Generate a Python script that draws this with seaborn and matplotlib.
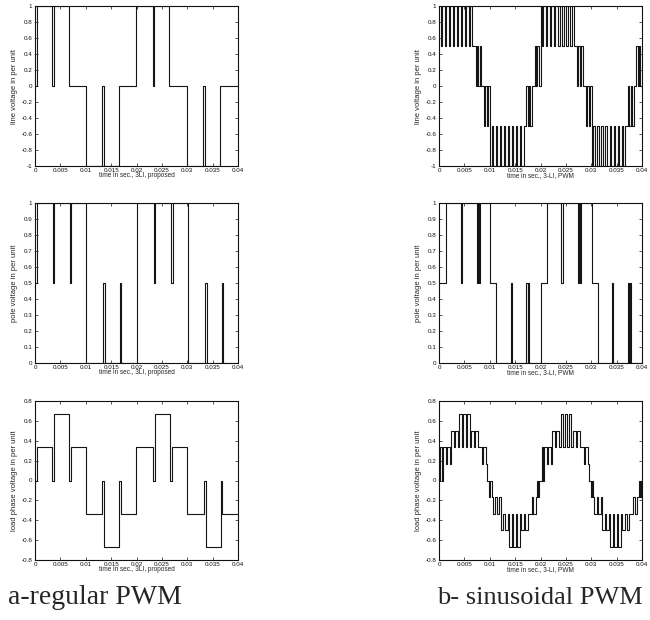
import numpy as np
import pandas as pd
import matplotlib
matplotlib.use("Agg")
import matplotlib.pyplot as plt
import seaborn as sns

# switching instants (ms) and the per-unit level held after each instant

# a) regular PWM, 3LI proposed
line_prop_t = [0, 0.3, 3.4, 3.7, 6.7, 10.1, 13.3, 13.6, 16.6, 19.9,
               23.2, 23.5, 26.5, 30.0, 33.2, 33.5, 36.4, 40]
line_prop_v = [0, 1, 0, 1, 0, -1, 0, -1, 0, 1,
               0, 1, 0, -1, 0, -1, 0, 0]

pole_prop_t = [0, 0.3, 3.5, 3.8, 6.8, 7.1, 10.1, 13.4, 13.7, 16.7, 17.0,
               20.0, 23.4, 23.7, 26.8, 27.1, 30.2, 33.5, 33.8, 36.8, 37.1, 40]
pole_prop_v = [0.5, 1, 0.5, 1, 0.5, 1, 0, 0.5, 0, 0.5, 0,
               1, 0.5, 1, 0.5, 1, 0, 0.5, 0, 0.5, 0, 0]

load_prop_t = [0, 0.3, 3.4, 3.7, 6.7, 7.0, 10.1, 13.3, 13.6, 16.6, 16.9,
               19.9, 23.3, 23.6, 26.6, 26.9, 30.0, 33.3, 33.6, 36.6, 36.9, 40]
load_prop_v = [0, 0.333, 0, 0.667, 0, 0.333, -0.333, 0, -0.667, 0, -0.333,
               0.333, 0, 0.667, 0, 0.333, -0.333, 0, -0.667, 0, -0.333, -0.333]

# b) sinusoidal PWM, 3-LI
line_spwm_t = [0, 0.3, 0.55, 1.1, 1.35, 1.9, 2.15, 2.7, 2.95, 3.5, 3.75, 4.3, 4.55,
               5.1, 5.35, 5.9, 6.15, 6.6,
               7.2, 7.45, 7.75, 8.0, 8.3,
               8.9, 9.15, 9.5, 9.75, 10.1,
               10.4, 10.65, 11.2, 11.45, 12.0, 12.25, 12.8, 13.05, 13.6, 13.85,
               14.4, 14.65, 15.2, 15.45, 16.0, 16.25, 16.7,
               17.2, 17.45, 17.75, 18.0, 18.4,
               18.9, 19.15, 19.4, 19.65, 20.0,
               20.3, 20.55, 21.1, 21.35, 21.9, 22.15, 22.7, 22.95, 23.5, 23.75,
               24.3, 24.55, 25.1, 25.35, 25.9, 26.15, 26.6,
               27.2, 27.45, 27.75, 28.0, 28.3,
               28.9, 29.15, 29.5, 29.75, 30.1,
               30.4, 30.65, 31.2, 31.45, 32.0, 32.25, 32.8, 33.05, 33.6, 33.85,
               34.4, 34.65, 35.2, 35.45, 36.0, 36.25, 36.7,
               37.2, 37.45, 37.75, 38.0, 38.4,
               38.9, 39.15, 39.4, 39.65, 40]
line_spwm_v = [1, 0.5, 1, 0.5, 1, 0.5, 1, 0.5, 1, 0.5, 1, 0.5, 1,
               0.5, 1, 0.5, 1, 0.5,
               0, 0.5, 0, 0.5, 0,
               -0.5, 0, -0.5, 0, -1,
               -0.5, -1, -0.5, -1, -0.5, -1, -0.5, -1, -0.5, -1,
               -0.5, -1, -0.5, -1, -0.5, -1, -0.5,
               0, -0.5, 0, -0.5, 0,
               0.5, 0, 0.5, 0, 1,
               0.5, 1, 0.5, 1, 0.5, 1, 0.5, 1, 0.5, 1,
               0.5, 1, 0.5, 1, 0.5, 1, 0.5,
               0, 0.5, 0, 0.5, 0,
               -0.5, 0, -0.5, 0, -1,
               -0.5, -1, -0.5, -1, -0.5, -1, -0.5, -1, -0.5, -1,
               -0.5, -1, -0.5, -1, -0.5, -1, -0.5,
               0, -0.5, 0, -0.5, 0,
               0.5, 0, 0.5, 0, 0]

pole_spwm_t = [0, 1.4, 4.3, 4.55, 7.4, 7.65, 7.8, 8.0, 10.0, 11.3,
               14.1, 14.35, 17.2, 17.45, 17.6, 17.8, 20.0,
               21.2, 24.1, 24.35, 27.4, 27.65, 27.8, 28.0, 30.1, 31.4,
               34.1, 34.35, 37.2, 37.45, 37.6, 37.8, 40]
pole_spwm_v = [0.5, 1, 0.5, 1, 0.5, 1, 0.5, 1, 0.5, 0,
               0.5, 0, 0.5, 0, 0.5, 0, 0.5,
               1, 0.5, 1, 0.5, 1, 0.5, 1, 0.5, 0,
               0.5, 0, 0.5, 0, 0.5, 0, 0]

load_spwm_t = [0, 0.2, 0.55, 0.75, 1.3, 1.55, 2.1,
               2.35, 2.9, 3.15, 3.7,
               3.95, 4.5, 4.75, 5.3, 5.55, 6.1,
               6.35, 6.9, 7.15, 7.7,
               8.5, 8.75, 9.3,
               9.55, 9.9, 10.1, 10.35,
               10.55, 11.1, 11.35, 11.9,
               12.15, 12.7, 12.95, 13.5,
               13.75, 14.3, 14.55, 15.1, 15.35, 15.9,
               16.15, 16.7, 16.95, 17.5,
               18.3, 18.55, 19.1,
               19.35, 19.55, 19.75,
               20.2, 20.55, 20.75, 21.3, 21.55, 22.1,
               22.35, 22.9, 23.15, 23.7,
               23.95, 24.5, 24.75, 25.3, 25.55, 26.1,
               26.35, 26.9, 27.15, 27.7,
               28.5, 28.75, 29.3,
               29.55, 29.9, 30.1, 30.35,
               30.55, 31.1, 31.35, 31.9,
               32.15, 32.7, 32.95, 33.5,
               33.75, 34.3, 34.55, 35.1, 35.35, 35.9,
               36.15, 36.7, 36.95, 37.5,
               38.3, 38.55, 39.1,
               39.35, 39.55, 39.75, 40]
load_spwm_v = [0, 0.333, 0, 0.333, 0.167, 0.333, 0.167,
               0.5, 0.333, 0.5, 0.333,
               0.667, 0.333, 0.667, 0.333, 0.667, 0.333,
               0.5, 0.333, 0.5, 0.333,
               0.167, 0.333, 0.167,
               0, -0.167, 0, -0.167,
               -0.333, -0.167, -0.333, -0.167,
               -0.5, -0.333, -0.5, -0.333,
               -0.667, -0.333, -0.667, -0.333, -0.667, -0.333,
               -0.5, -0.333, -0.5, -0.333,
               -0.167, -0.333, -0.167,
               0, -0.167, 0,
               0.333, 0, 0.333, 0.167, 0.333, 0.167,
               0.5, 0.333, 0.5, 0.333,
               0.667, 0.333, 0.667, 0.333, 0.667, 0.333,
               0.5, 0.333, 0.5, 0.333,
               0.167, 0.333, 0.167,
               0, -0.167, 0, -0.167,
               -0.333, -0.167, -0.333, -0.167,
               -0.5, -0.333, -0.5, -0.333,
               -0.667, -0.333, -0.667, -0.333, -0.667, -0.333,
               -0.5, -0.333, -0.5, -0.333,
               -0.167, -0.333, -0.167,
               0, -0.167, 0, 0]

x_ticks = [0, 0.005, 0.01, 0.015, 0.02, 0.025, 0.03, 0.035, 0.04]
x_tick_labels = ["0", "0.005", "0.01", "0.015", "0.02", "0.025", "0.03", "0.035", "0.04"]
line_ticks = [-1, -0.8, -0.6, -0.4, -0.2, 0, 0.2, 0.4, 0.6, 0.8, 1]
line_tick_labels = ["-1", "-0.8", "-0.6", "-0.4", "-0.2", "0", "0.2", "0.4", "0.6", "0.8", "1"]
pole_ticks = [0, 0.1, 0.2, 0.3, 0.4, 0.5, 0.6, 0.7, 0.8, 0.9, 1]
pole_tick_labels = ["0", "0.1", "0.2", "0.3", "0.4", "0.5", "0.6", "0.7", "0.8", "0.9", "1"]
load_ticks = [-0.8, -0.6, -0.4, -0.2, 0, 0.2, 0.4, 0.6, 0.8]
load_tick_labels = ["-0.8", "-0.6", "-0.4", "-0.2", "0", "0.2", "0.4", "0.6", "0.8"]

xlabel_prop = "time in sec., 3LI, proposed"
xlabel_spwm = "time in sec., 3-LI, PWM"
captions = ["a-regular PWM", "b- sinusoidal PWM"]

sns.set_style("ticks")
plt.rcParams["font.family"] = ["Liberation Sans", "DejaVu Sans"]

fig = plt.figure(figsize=(6.5, 6.2), dpi=100)

col_left = [35 / 650, 439 / 650]
col_w = 203 / 650
rows = [(1 - 166 / 620, 160 / 620), (1 - 363 / 620, 160 / 620), (1 - 560 / 620, 159 / 620)]

panels = [
    (0, 0, line_prop_t, line_prop_v, "line voltage in per unit", line_ticks, line_tick_labels, (-1, 1), xlabel_prop),
    (1, 0, pole_prop_t, pole_prop_v, "pole voltage in per unit", pole_ticks, pole_tick_labels, (0, 1), xlabel_prop),
    (2, 0, load_prop_t, load_prop_v, "load phase voltage in per unit", load_ticks, load_tick_labels, (-0.8, 0.8), xlabel_prop),
    (0, 1, line_spwm_t, line_spwm_v, "line voltage in per unit", line_ticks, line_tick_labels, (-1, 1), xlabel_spwm),
    (1, 1, pole_spwm_t, pole_spwm_v, "pole voltage in per unit", pole_ticks, pole_tick_labels, (0, 1), xlabel_spwm),
    (2, 1, load_spwm_t, load_spwm_v, "load phase voltage in per unit", load_ticks, load_tick_labels, (-0.8, 0.8), xlabel_spwm),
]

for r, c, t_ms, v, ylab, yt, ytl, ylim, xlab in panels:
    bottom, height = rows[r]
    ax = fig.add_axes([col_left[c], bottom, col_w, height])
    df = pd.DataFrame({"t": np.array(t_ms) / 1000.0, "v": v})
    sns.lineplot(data=df, x="t", y="v", ax=ax, estimator=None, sort=False,
                 drawstyle="steps-post", color="#151515", lw=0.8)
    ax.set_xlim(0, 0.04)
    ax.set_ylim(*ylim)
    ax.set_xticks(x_ticks)
    ax.set_xticklabels(x_tick_labels)
    ax.set_yticks(yt)
    ax.set_yticklabels(ytl)
    ax.tick_params(direction="in", top=True, right=True, length=2, width=0.5,
                   labelsize=4.5, colors="#111111")
    ax.tick_params(axis="x", pad=1.2)
    ax.tick_params(axis="y", pad=2)
    for s in ax.spines.values():
        s.set_linewidth(0.8)
        s.set_color("#111111")
    ax.set_xlabel(xlab, fontsize=4.7)
    ax.set_ylabel(ylab, fontsize=5.5)
    ax.xaxis.set_label_coords(0.5, -0.04)
    ax.yaxis.set_label_coords(-0.085, 0.5)

serif = ["Liberation Serif", "DejaVu Serif"]
fig.text(8 / 650, 0.025, captions[0], fontsize=20, family=serif,
         ha="left", va="baseline")
fig.text(643 / 650, 0.025, captions[1], fontsize=19, family=serif,
         ha="right", va="baseline")

fig.savefig("out.png", dpi=100)
